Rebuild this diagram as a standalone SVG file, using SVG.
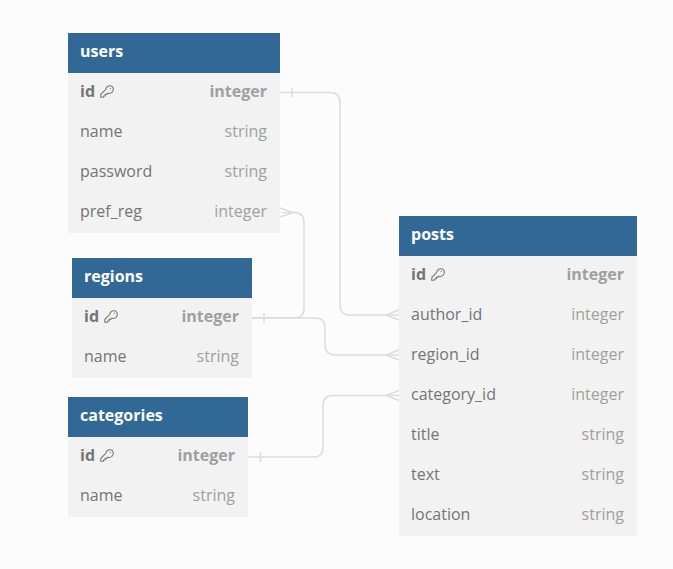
<svg xmlns="http://www.w3.org/2000/svg" width="673" height="569" viewBox="0 0 673 569">
<style>
text{font-family:"Open Sans","Noto Sans","DejaVu Sans",sans-serif;font-size:16px}
.hd{fill:#316896}
.bd{fill:#f2f2f2}
.t{fill:#fff;font-weight:700}
.n{fill:#757575}
.y{fill:#a0a0a0;text-anchor:end}
.b{font-weight:700}
.c{fill:none;stroke:#dcdcdc;stroke-width:1.5}
.k{fill:none;stroke:#777;stroke-width:1.1}
</style>
<defs>
<g id="key"><path class="k" d="M0.7 12.2 L0.9 9.3 L5.6 4.6 C6 1.8 8.4 0.3 10.6 0.8 C13 1.3 13.9 3.8 13 5.9 C12.1 8 9.8 8.9 7.8 8.2 L6.8 9.4 L5.2 9.4 L5.2 11 L3.7 11 L3.2 12.2 Z M10 3 L10.8 3.7"/></g>
</defs>
<rect width="673" height="569" fill="#fcfcfc"/>
<g id="connectors">
<path class="c" d="M280 92.500H330Q340 92.500 340 102.500V305Q340 315 350 315H399"/>
<path class="c" d="M282 212.500H294Q304 212.500 304 222.500V308Q304 318 294 318H252"/>
<path class="c" d="M252 318H315Q325 318 325 328V345Q325 355 336 355H399"/>
<path class="c" d="M248 457H314Q323 457 323 447V405.500Q323 395.500 333 395.500H399"/>
<path class="c" d="M292 87.500V97.500M264 313V323M260.500 452V462"/>
<path class="c" d="M280 208L293 212.500L280 217M399 310L386 315L399 320M399 350L386 355L399 360M399 390.500L386 395.500L399 400.500"/>
</g>
<g id="users">
<rect class="bd" x="68" y="73" width="212" height="160"/>
<rect class="hd" x="68" y="33" width="212" height="40"/>
<text class="t" x="80" y="57">users</text>
<text class="n b" x="80" y="97">id</text><use href="#key" x="100" y="85"/><text class="y b" x="267" y="97">integer</text>
<text class="n" x="80" y="137">name</text><text class="y" x="267" y="137">string</text>
<text class="n" x="80" y="177">password</text><text class="y" x="267" y="177">string</text>
<text class="n" x="80" y="217">pref_reg</text><text class="y" x="267" y="217">integer</text>
</g>
<g id="regions">
<rect class="bd" x="72" y="298" width="180" height="80"/>
<rect class="hd" x="72" y="258" width="180" height="40"/>
<text class="t" x="84" y="282">regions</text>
<text class="n b" x="84" y="322">id</text><use href="#key" x="104" y="310"/><text class="y b" x="239" y="322">integer</text>
<text class="n" x="84" y="362">name</text><text class="y" x="239" y="362">string</text>
</g>
<g id="categories">
<rect class="bd" x="68" y="437" width="180" height="80"/>
<rect class="hd" x="68" y="397" width="180" height="40"/>
<text class="t" x="80" y="421">categories</text>
<text class="n b" x="80" y="461">id</text><use href="#key" x="100" y="449"/><text class="y b" x="235" y="461">integer</text>
<text class="n" x="80" y="501">name</text><text class="y" x="235" y="501">string</text>
</g>
<g id="posts">
<rect class="bd" x="399" y="256" width="238" height="280"/>
<rect class="hd" x="399" y="216" width="238" height="40"/>
<text class="t" x="411" y="240">posts</text>
<text class="n b" x="411" y="280">id</text><use href="#key" x="431" y="268"/><text class="y b" x="624" y="280">integer</text>
<text class="n" x="411" y="320">author_id</text><text class="y" x="624" y="320">integer</text>
<text class="n" x="411" y="360">region_id</text><text class="y" x="624" y="360">integer</text>
<text class="n" x="411" y="400">category_id</text><text class="y" x="624" y="400">integer</text>
<text class="n" x="411" y="440">title</text><text class="y" x="624" y="440">string</text>
<text class="n" x="411" y="480">text</text><text class="y" x="624" y="480">string</text>
<text class="n" x="411" y="520">location</text><text class="y" x="624" y="520">string</text>
</g>
</svg>
